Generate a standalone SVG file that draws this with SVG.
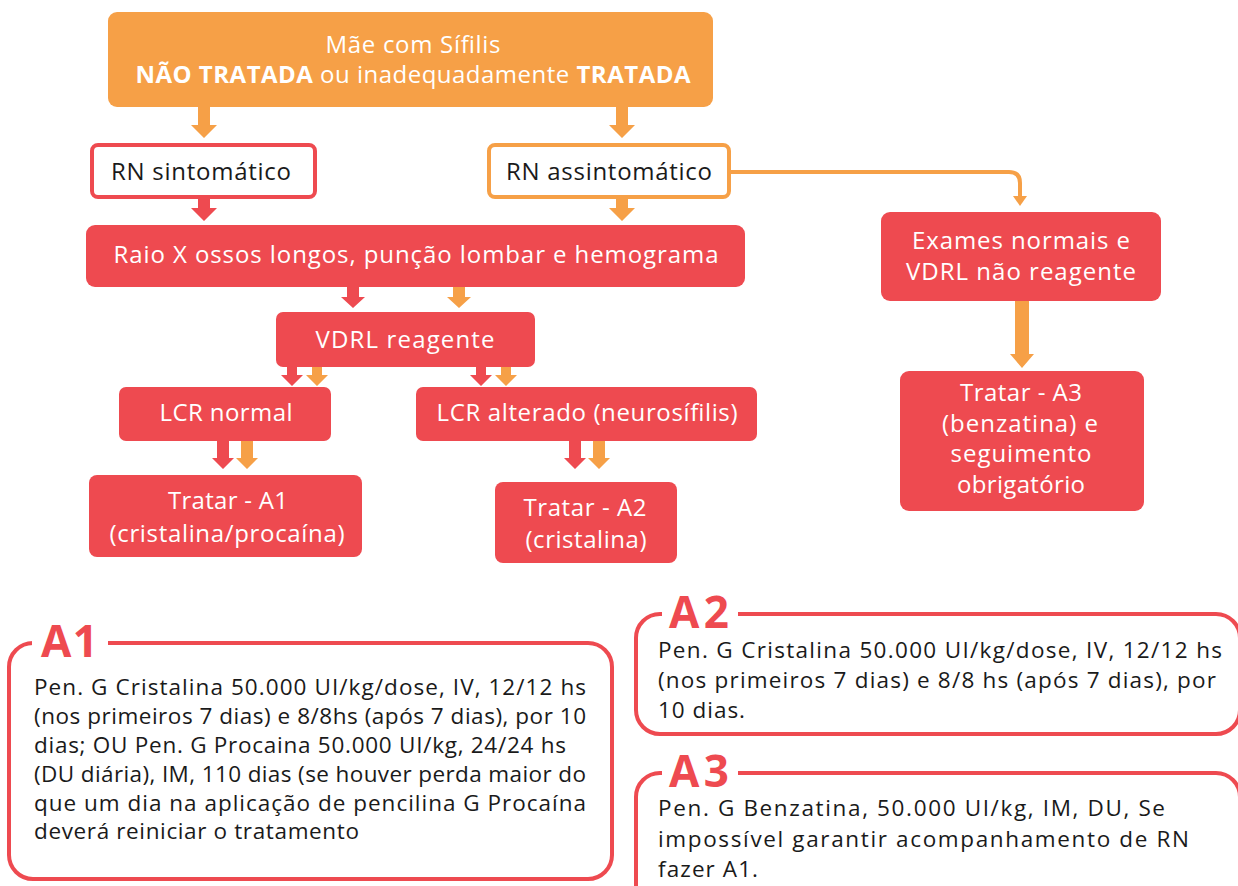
<svg xmlns="http://www.w3.org/2000/svg" width="1238" height="886" viewBox="0 0 1238 886">
  <defs>
    <style>
      .org { fill: #F6A047; }
      .red { fill: #EE4A50; }
      .node-fill-org { fill: #F6A047; }
      .node-fill-red { fill: #EE4A50; }
      .node-out-red { fill: #FFFFFF; stroke: #EE4A50; stroke-width: 4; }
      .node-out-org { fill: #FFFFFF; stroke: #F6A047; stroke-width: 4; }
      .panel { fill: #FFFFFF; stroke: #EE4A50; stroke-width: 4; }
      .gap { fill: #FFFFFF; }
      text { font-family: "Open Sans", "Noto Sans", "Liberation Sans", sans-serif; }
      .w { fill: #FFFFFF; font-size: 24px; text-anchor: middle; }
      .k { fill: #1A1A1A; font-size: 24px; text-anchor: middle; }
      .body { fill: #1A1A1A; font-size: 22.5px; }
      .tag { fill: #EE4A50; font-size: 44px; font-weight: 700; }
      .conn { fill: none; stroke: #F6A047; stroke-width: 4; }
    </style>
  </defs>

  <!-- flow nodes -->
  <g id="mae">
    <rect class="node-fill-org" x="108" y="12" width="605" height="95" rx="9"/>
    <text class="w" x="413" y="53" font-size="25" textLength="175" lengthAdjust="spacing">Mãe com Sífilis</text>
    <text class="w" x="413" y="83" font-size="25" textLength="555" lengthAdjust="spacing"><tspan font-weight="700">NÃO TRATADA</tspan> ou inadequadamente <tspan font-weight="700">TRATADA</tspan></text>
  </g>

  <g id="rn-sintomatico">
    <rect class="node-out-red" x="92" y="145" width="223" height="52" rx="6"/>
    <text class="k" x="201" y="180" textLength="180" lengthAdjust="spacing">RN sintomático</text>
  </g>

  <g id="rn-assintomatico">
    <rect class="node-out-org" x="489" y="145" width="240" height="52" rx="6"/>
    <text class="k" x="609" y="180" textLength="206" lengthAdjust="spacing">RN assintomático</text>
  </g>

  <g id="exames">
    <rect class="node-fill-red" x="86" y="225" width="659" height="62" rx="9"/>
    <text class="w" x="416" y="263" textLength="605" lengthAdjust="spacing">Raio X ossos longos, punção lombar e hemograma</text>
  </g>

  <g id="vdrl-reagente">
    <rect class="node-fill-red" x="276" y="312" width="259" height="55" rx="7"/>
    <text class="w" x="405" y="348" textLength="179" lengthAdjust="spacing">VDRL reagente</text>
  </g>

  <g id="lcr-normal">
    <rect class="node-fill-red" x="119" y="387" width="212" height="54" rx="7"/>
    <text class="w" x="226" y="421" textLength="133" lengthAdjust="spacing">LCR normal</text>
  </g>

  <g id="lcr-alterado">
    <rect class="node-fill-red" x="416" y="387" width="341" height="54" rx="7"/>
    <text class="w" x="587" y="421" textLength="301" lengthAdjust="spacing">LCR alterado (neurosífilis)</text>
  </g>

  <g id="tratar-a1">
    <rect class="node-fill-red" x="89" y="475" width="273" height="82" rx="8"/>
    <text class="w" x="228" y="509" textLength="120" lengthAdjust="spacing">Tratar - A1</text>
    <text class="w" x="227" y="542" textLength="235" lengthAdjust="spacing">(cristalina/procaína)</text>
  </g>

  <g id="tratar-a2">
    <rect class="node-fill-red" x="495" y="482" width="182" height="81" rx="8"/>
    <text class="w" x="585" y="516" textLength="123" lengthAdjust="spacing">Tratar - A2</text>
    <text class="w" x="586" y="548" textLength="121" lengthAdjust="spacing">(cristalina)</text>
  </g>

  <g id="exames-normais">
    <rect class="node-fill-red" x="881" y="212" width="280" height="89" rx="9"/>
    <text class="w" x="1021" y="249" textLength="218" lengthAdjust="spacing">Exames normais e</text>
    <text class="w" x="1021" y="280" textLength="230" lengthAdjust="spacing">VDRL não reagente</text>
  </g>

  <g id="tratar-a3">
    <rect class="node-fill-red" x="900" y="371" width="244" height="140" rx="9"/>
    <text class="w" x="1021" y="401" textLength="122" lengthAdjust="spacing">Tratar - A3</text>
    <text class="w" x="1020" y="432" textLength="156" lengthAdjust="spacing">(benzatina) e</text>
    <text class="w" x="1021" y="462" textLength="141" lengthAdjust="spacing">seguimento</text>
    <text class="w" x="1021" y="493" textLength="128" lengthAdjust="spacing">obrigatório</text>
  </g>

  <!-- connectors: block arrows and the elbow line -->
  <g id="connectors">
    <polygon class="org" points="198,107 210,107 210,125 217,125 204,138 191,125 198,125"/>
    <polygon class="org" points="616,107 628,107 628,125 635,125 622,138 609,125 616,125"/>

    <polygon class="red" points="198,199 210,199 210,208 217,208 204,221 191,208 198,208"/>
    <polygon class="org" points="616,199 628,199 628,208 635,208 622,221 609,208 616,208"/>

    <polygon class="red" points="347,287 359,287 359,297 365,297 353,308 341,297 347,297"/>
    <polygon class="org" points="453,287 465,287 465,297 471,297 459,308 447,297 453,297"/>

    <polygon class="red" points="287,367 297,367 297,375 303,375 292,386 281,375 287,375"/>
    <polygon class="org" points="312,367 322,367 322,375 328,375 317,386 306,375 312,375"/>
    <polygon class="red" points="476,367 486,367 486,375 492,375 481,386 470,375 476,375"/>
    <polygon class="org" points="501,367 511,367 511,375 517,375 506,386 495,375 501,375"/>

    <polygon class="red" points="217,441 229,441 229,458 234,458 223,469 212,458 217,458"/>
    <polygon class="org" points="241,441 253,441 253,458 258,458 247,469 236,458 241,458"/>
    <polygon class="red" points="569,441 581,441 581,458 586,458 575,469 564,458 569,458"/>
    <polygon class="org" points="593,441 605,441 605,458 610,458 599,469 588,458 593,458"/>

    <polygon class="org" points="1015,301 1029,301 1029,354 1034,354 1022,368 1010,354 1015,354"/>

    <path class="conn" d="M729,172 H1009 Q1020,172 1020,183 V197"/>
    <polygon class="org" points="1013,196 1027,196 1020,206"/>
  </g>

  <!-- dosage panels -->
  <g id="panel-a1">
    <rect class="panel" x="9" y="643" width="603" height="236" rx="24"/>
    <rect class="gap" x="32" y="636" width="76" height="14"/>
    <text class="tag" x="41" y="657" textLength="57" lengthAdjust="spacing">A1</text>
    <text class="body" x="34" y="695" textLength="552" lengthAdjust="spacing">Pen. G Cristalina 50.000 UI/kg/dose, IV, 12/12 hs</text>
    <text class="body" x="34" y="724" textLength="552" lengthAdjust="spacing">(nos primeiros 7 dias) e 8/8hs (após 7 dias), por 10</text>
    <text class="body" x="34" y="753" textLength="532" lengthAdjust="spacing">dias; OU Pen. G Procaina 50.000 UI/kg, 24/24 hs</text>
    <text class="body" x="34" y="782" textLength="552" lengthAdjust="spacing">(DU diária), IM, 110 dias (se houver perda maior do</text>
    <text class="body" x="34" y="811" textLength="552" lengthAdjust="spacing">que um dia na aplicação de pencilina G Procaína</text>
    <text class="body" x="34" y="839" textLength="325" lengthAdjust="spacing">deverá reiniciar o tratamento</text>
  </g>

  <g id="panel-a2">
    <rect class="panel" x="636" y="614" width="604" height="120" rx="24"/>
    <rect class="gap" x="662" y="606" width="76" height="14"/>
    <text class="tag" x="669" y="628" textLength="60" lengthAdjust="spacing">A2</text>
    <text class="body" x="658" y="658" textLength="564" lengthAdjust="spacing">Pen. G Cristalina 50.000 UI/kg/dose, IV, 12/12 hs</text>
    <text class="body" x="658" y="688" textLength="558" lengthAdjust="spacing">(nos primeiros 7 dias) e 8/8 hs (após 7 dias), por</text>
    <text class="body" x="658" y="718" textLength="87" lengthAdjust="spacing">10 dias.</text>
  </g>

  <g id="panel-a3">
    <rect class="panel" x="636" y="773" width="604" height="140" rx="24"/>
    <rect class="gap" x="662" y="765" width="76" height="14"/>
    <text class="tag" x="669" y="787" textLength="60" lengthAdjust="spacing">A3</text>
    <text class="body" x="658" y="816" textLength="507" lengthAdjust="spacing">Pen. G Benzatina, 50.000 UI/kg, IM, DU, Se</text>
    <text class="body" x="658" y="847" textLength="531" lengthAdjust="spacing">impossível garantir acompanhamento de RN</text>
    <text class="body" x="658" y="877" textLength="100" lengthAdjust="spacing">fazer A1.</text>
  </g>
</svg>
